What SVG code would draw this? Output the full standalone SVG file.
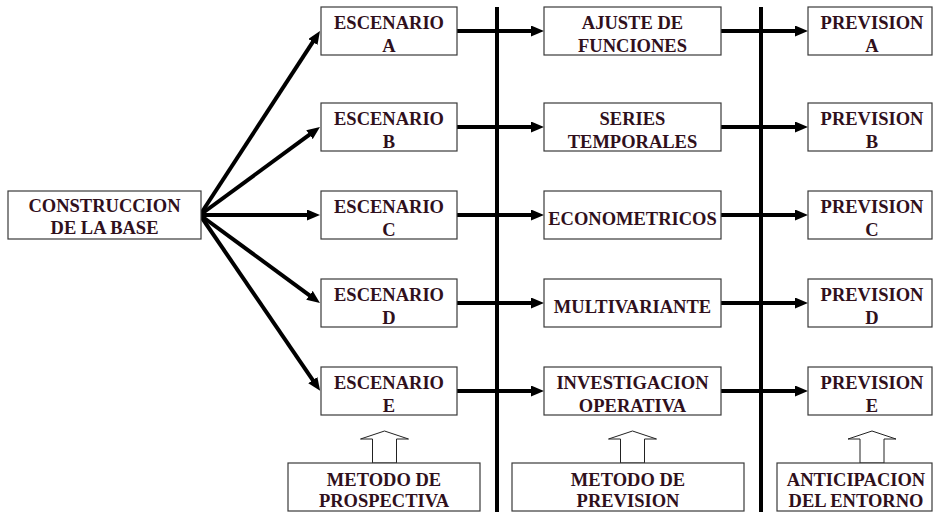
<svg xmlns="http://www.w3.org/2000/svg" width="933" height="512" viewBox="0 0 933 512">
<style>
.box{fill:#fff;stroke:#3a3a3a;stroke-width:1.2}
.t{font-weight:bold;font-size:18.5px;fill:#30101c;text-anchor:middle}
.c{stroke:#000;stroke-width:4;fill:none}
.v{stroke:#000;stroke-width:4}
.h{fill:#fff;stroke:#222;stroke-width:1}
</style>
<defs>
<marker id="ah" viewBox="0 0 13 11" refX="3" refY="5.5" markerWidth="13" markerHeight="11" markerUnits="userSpaceOnUse" orient="auto">
<path d="M0,0 L13,5.5 L0,11 z" fill="#000"/>
</marker>
</defs>
<g id="dividers">
<line class="v" x1="497" y1="7" x2="497" y2="512"/>
<line class="v" x1="761" y1="7" x2="761" y2="512"/>
</g>
<g id="connectors">
<line class="c" x1="200" y1="215" x2="314.5" y2="39.4" marker-end="url(#ah)"/>
<line class="c" x1="200" y1="215" x2="311.9" y2="132.9" marker-end="url(#ah)"/>
<line class="c" x1="200" y1="215" x2="310" y2="215" marker-end="url(#ah)"/>
<line class="c" x1="200" y1="215" x2="311.9" y2="297.1" marker-end="url(#ah)"/>
<line class="c" x1="200" y1="215" x2="314.5" y2="382.6" marker-end="url(#ah)"/>
<line class="c" x1="457" y1="31" x2="534" y2="31" marker-end="url(#ah)"/>
<line class="c" x1="457" y1="127" x2="534" y2="127" marker-end="url(#ah)"/>
<line class="c" x1="457" y1="215" x2="534" y2="215" marker-end="url(#ah)"/>
<line class="c" x1="457" y1="303" x2="534" y2="303" marker-end="url(#ah)"/>
<line class="c" x1="457" y1="391" x2="534" y2="391" marker-end="url(#ah)"/>
<line class="c" x1="721" y1="31" x2="798" y2="31" marker-end="url(#ah)"/>
<line class="c" x1="721" y1="127" x2="798" y2="127" marker-end="url(#ah)"/>
<line class="c" x1="721" y1="215" x2="798" y2="215" marker-end="url(#ah)"/>
<line class="c" x1="721" y1="303" x2="798" y2="303" marker-end="url(#ah)"/>
<line class="c" x1="721" y1="391" x2="798" y2="391" marker-end="url(#ah)"/>
<polygon class="h" points="372.5,463 372.5,439 360.5,439 384.5,431 408.5,439 396.5,439 396.5,463"/>
<polygon class="h" points="620.5,463 620.5,439 608.5,439 632.5,431 656.5,439 644.5,439 644.5,463"/>
<polygon class="h" points="860,463 860,439 848,439 872,431 896,439 884,439 884,463"/>
</g>
<g font-family="Liberation Serif, serif">
<g id="construccion">
<rect class="box" x="8" y="191" width="193" height="48"/>
<text class="t" x="104.5" y="212">CONSTRUCCION</text>
<text class="t" x="104.5" y="234">DE LA BASE</text>
</g>
<g id="escenario-a"><rect class="box" x="321" y="7" width="136" height="48"/><text class="t" x="389" y="29">ESCENARIO</text><text class="t" x="389" y="51.5">A</text></g>
<g id="escenario-b"><rect class="box" x="321" y="103" width="136" height="48"/><text class="t" x="389" y="125">ESCENARIO</text><text class="t" x="389" y="147.5">B</text></g>
<g id="escenario-c"><rect class="box" x="321" y="191" width="136" height="48"/><text class="t" x="389" y="213">ESCENARIO</text><text class="t" x="389" y="235.5">C</text></g>
<g id="escenario-d"><rect class="box" x="321" y="279" width="136" height="48"/><text class="t" x="389" y="301">ESCENARIO</text><text class="t" x="389" y="323.5">D</text></g>
<g id="escenario-e"><rect class="box" x="321" y="367" width="136" height="48"/><text class="t" x="389" y="389">ESCENARIO</text><text class="t" x="389" y="411.5">E</text></g>
<g id="ajuste"><rect class="box" x="544" y="7" width="177" height="48"/><text class="t" x="632.5" y="29">AJUSTE DE</text><text class="t" x="632.5" y="51.5">FUNCIONES</text></g>
<g id="series"><rect class="box" x="544" y="103" width="177" height="48"/><text class="t" x="632.5" y="125">SERIES</text><text class="t" x="632.5" y="147.5">TEMPORALES</text></g>
<g id="econometricos"><rect class="box" x="544" y="191" width="177" height="48"/><text class="t" x="632.5" y="225">ECONOMETRICOS</text></g>
<g id="multivariante"><rect class="box" x="544" y="279" width="177" height="48"/><text class="t" x="632.5" y="313">MULTIVARIANTE</text></g>
<g id="investigacion"><rect class="box" x="544" y="367" width="177" height="48"/><text class="t" x="632.5" y="389">INVESTIGACION</text><text class="t" x="632.5" y="411.5">OPERATIVA</text></g>
<g id="prevision-a"><rect class="box" x="808" y="7" width="124" height="48"/><text class="t" x="872" y="29">PREVISION</text><text class="t" x="872" y="51.5">A</text></g>
<g id="prevision-b"><rect class="box" x="808" y="103" width="124" height="48"/><text class="t" x="872" y="125">PREVISION</text><text class="t" x="872" y="147.5">B</text></g>
<g id="prevision-c"><rect class="box" x="808" y="191" width="124" height="48"/><text class="t" x="872" y="213">PREVISION</text><text class="t" x="872" y="235.5">C</text></g>
<g id="prevision-d"><rect class="box" x="808" y="279" width="124" height="48"/><text class="t" x="872" y="301">PREVISION</text><text class="t" x="872" y="323.5">D</text></g>
<g id="prevision-e"><rect class="box" x="808" y="367" width="124" height="48"/><text class="t" x="872" y="389">PREVISION</text><text class="t" x="872" y="411.5">E</text></g>
<g id="metodo-prospectiva"><rect class="box" x="288" y="463" width="192" height="48"/><text class="t" x="384" y="485.5">METODO DE</text><text class="t" x="384" y="507">PROSPECTIVA</text></g>
<g id="metodo-prevision"><rect class="box" x="512" y="463" width="232" height="48"/><text class="t" x="628" y="485.5">METODO DE</text><text class="t" x="628" y="507">PREVISION</text></g>
<g id="anticipacion"><rect class="box" x="777" y="463" width="155" height="48"/><text class="t" x="856" y="485.5">ANTICIPACION</text><text class="t" x="856" y="507">DEL ENTORNO</text></g>
</g>
</svg>
